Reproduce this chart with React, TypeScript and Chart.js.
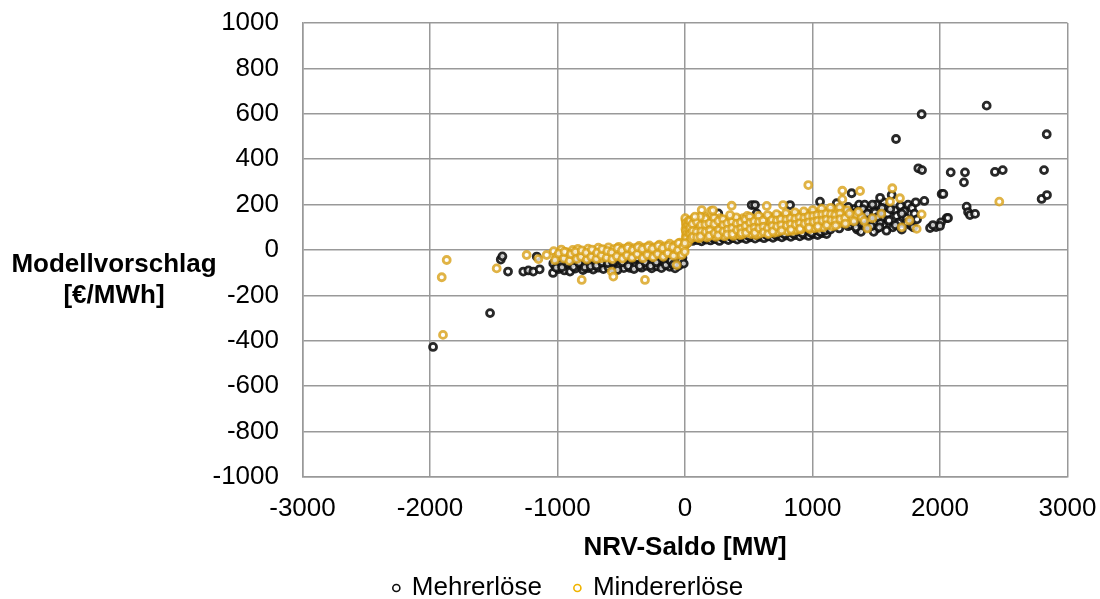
import React, { useEffect, useRef } from "react";
import { Chart, registerables } from "chart.js";

Chart.register(...registerables);

const FONT = "'Liberation Sans', Arial, Helvetica, sans-serif";

const SERIES_NAMES = ["Mehrerlöse", "Mindererlöse"];
const X_TITLE = "NRV-Saldo [MW]";
const Y_TITLE = ["Modellvorschlag", "[€/MWh]"];
const X_TICKS = [-3000, -2000, -1000, 0, 1000, 2000, 3000];
const Y_TICKS = [-1000, -800, -600, -400, -200, 0, 200, 400, 600, 800, 1000];

// Mehrerlöse (black) – isolated points
const mehrOutliers: number[][] = [
  [-1976, -427], [-1529, -278], [-1445, -42], [-1432, -28], [-1388, -95], [-1268, -95], [-1228, -90],
  [-1190, -95], [-1163, -29], [-1140, -85],
  [1856, 598], [2366, 636], [2837, 510], [1655, 489], [1830, 360], [1859, 352], [2084, 342], [2196, 342],
  [2188, 298], [2431, 344], [2492, 352], [2816, 352], [2013, 247], [2026, 247], [1877, 216], [2797, 225],
  [2839, 242], [2209, 191], [2220, 167], [2235, 154], [2275, 159], [2052, 140], [2063, 141], [2008, 122],
  [1922, 97], [1969, 101], [2000, 106], [1945, 110],
];

// Mehrerlöse – positive NRV band
const mehrPos: number[][] = [
  [15, 30], [30, 45], [60, 40], [95, 44], [130, 38], [165, 46], [200, 42], [235, 48], [270, 40], [305, 50],
  [340, 44], [375, 52], [410, 46], [445, 54], [480, 48], [515, 56], [550, 50], [585, 58], [620, 52], [655, 60],
  [690, 54], [725, 62], [760, 56], [795, 64], [830, 58], [865, 66], [900, 60], [935, 68], [970, 62], [1005, 70],
  [1040, 66], [1075, 74], [1110, 70],
  [50, 60], [120, 58], [190, 62], [260, 64], [330, 66], [400, 68], [470, 70], [540, 72], [610, 74], [680, 76],
  [750, 78], [820, 80], [890, 84], [960, 86], [1030, 88],
  [80, 52], [150, 50], [220, 54], [290, 56], [360, 58], [430, 60], [500, 62], [570, 64], [640, 66], [710, 68],
  [780, 70], [850, 72], [920, 74], [990, 76], [1060, 80], [1100, 86],
  [261, 161], [523, 198], [549, 198], [562, 161], [824, 198], [1059, 213], [1190, 206], [1229, 169],
  [300, 120], [650, 125], [750, 140], [870, 150], [1000, 160], [1120, 150],
  [1140, 90], [1175, 110], [1210, 95], [1245, 120], [1280, 105], [1307, 250], [1318, 140], [1330, 180],
  [1350, 90], [1365, 200], [1380, 115], [1400, 160], [1420, 130], [1440, 100], [1455, 185], [1470, 150],
  [1490, 120], [1505, 95], [1520, 175], [1540, 140], [1555, 110], [1570, 190], [1590, 160], [1600, 130],
  [1621, 242], [1630, 100], [1645, 175], [1660, 150], [1675, 120], [1690, 195], [1700, 90], [1720, 170],
  [1735, 140], [1750, 200], [1765, 110], [1780, 185], [1800, 160], [1820, 135], [1580, 85], [1480, 80],
  [1380, 80],
  [1150, 130], [1250, 150], [1300, 110], [1350, 170], [1450, 140], [1160, 170], [1280, 190], [1410, 200],
  [1500, 200], [1480, 170], [1530, 120], [1610, 180], [1650, 110], [1700, 160], [1740, 120], [1790, 100],
  [1810, 210], [1560, 210], [1530, 230],
  [1260, 140], [1275, 165], [1295, 125], [1315, 160], [1335, 130], [1340, 100], [1360, 150], [1375, 135],
  [1395, 180], [1410, 110], [1430, 160], [1445, 125], [1460, 105], [1470, 200], [1490, 165], [1510, 145],
  [1525, 100], [1545, 185],
];

// Mehrerlöse – negative NRV band
const mehrNeg: number[][] = [
  [-1000, -46], [-955, -52], [-910, -44], [-865, -50], [-820, -47], [-775, -53], [-730, -45], [-685, -51],
  [-640, -43], [-595, -49], [-550, -44], [-505, -50], [-460, -42], [-415, -48], [-370, -41], [-325, -47],
  [-280, -40], [-235, -46], [-190, -38], [-145, -44], [-100, -36], [-55, -42], [-20, -34],
  [-1020, -68], [-975, -62], [-930, -70], [-885, -64], [-840, -69], [-795, -63], [-750, -68], [-705, -62],
  [-660, -67], [-615, -61], [-570, -66], [-525, -60], [-480, -65], [-435, -59], [-390, -64], [-345, -58],
  [-300, -63], [-255, -57], [-210, -61], [-165, -56], [-120, -60], [-75, -55], [-35, -58],
  [-1035, -101], [-990, -84], [-945, -90], [-902, -95], [-860, -82], [-800, -88], [-760, -80], [-720, -86],
  [-680, -78], [-640, -84], [-600, -76], [-560, -82], [-520, -74], [-480, -80], [-431, -79], [-390, -72],
  [-340, -78], [-300, -70], [-261, -81], [-220, -72], [-170, -68], [-120, -74], [-78, -81], [-50, -70],
  [-1033, -59], [-980, -30], [-941, -15], [-860, -20], [-700, -30], [-500, -20], [-250, -10],
  [-1010, -78], [-965, -76], [-920, -56], [-875, -74], [-830, -56], [-785, -76], [-740, -72], [-695, -68],
  [-650, -54], [-605, -58], [-565, -52], [-530, -88], [-490, -54], [-445, -70], [-400, -84], [-355, -70],
  [-310, -54], [-270, -70], [-225, -54], [-185, -80], [-150, -66], [-110, -48], [-90, -64], [-30, -46],
  [-10, -60],
];

// Mindererlöse (gold) – positive NRV band
const minderPos: number[][] = [
  [5, 130], [8, 110], [4, 92], [10, 75], [6, 58], [12, 40], [3, 22], [15, 120], [20, 100], [25, 85],
  [18, 65], [28, 50], [2, 140], [9, 118], [14, 102], [7, 84], [16, 70], [11, 52], [22, 32], [26, 112],
  [32, 90], [35, 70], [30, 130],
  [40, 128], [42, 100], [45, 72], [48, 50], [70, 118], [75, 90], [78, 62], [72, 140],
  [105, 130], [110, 98], [108, 70], [112, 52], [140, 122], [145, 95], [138, 66], [150, 148],
  [175, 133], [180, 104], [178, 75], [172, 55], [210, 126], [215, 92], [205, 68],
  [245, 135], [250, 108], [248, 80], [242, 58], [280, 122], [285, 96], [290, 70], [275, 140],
  [315, 130], [320, 102], [318, 77], [310, 60], [350, 138], [355, 110], [345, 84],
  [385, 126], [390, 98], [392, 72], [380, 62], [420, 134], [425, 106], [418, 80], [430, 66],
  [455, 140], [460, 112], [465, 86], [450, 68], [490, 128], [495, 100], [500, 78], [488, 150],
  [525, 138], [530, 114], [535, 88], [520, 70], [560, 132], [565, 106], [570, 82], [558, 66],
  [595, 142], [600, 118], [605, 92], [590, 72], [630, 136], [635, 110], [640, 84],
  [665, 146], [670, 120], [675, 96], [660, 74], [700, 140], [705, 114], [710, 88], [698, 76],
  [735, 150], [740, 124], [745, 98], [730, 80], [775, 144], [780, 118], [785, 92],
  [810, 152], [815, 128], [820, 102], [805, 82], [845, 146], [850, 120], [855, 96], [840, 84],
  [880, 156], [885, 130], [890, 106], [875, 88], [915, 150], [920, 126], [925, 100], [910, 90],
  [950, 160], [955, 134], [960, 110], [985, 154], [990, 130], [995, 104], [980, 92],
  [1020, 164], [1025, 140], [1030, 114], [1015, 96], [1055, 158], [1060, 134], [1065, 108], [1050, 98],
  [1090, 170], [1095, 144], [1100, 120], [1085, 100], [1125, 160], [1130, 136], [1135, 112],
  [1160, 172], [1165, 148], [1170, 122], [1155, 104], [1195, 166], [1200, 140], [1205, 116],
  [1229, 180], [1240, 150], [1245, 126], [1270, 176], [1280, 128], [1310, 140], [1345, 156],
  [1385, 145], [1430, 95], [1470, 140], [1540, 160], [1760, 130], [1700, 100],
  [58, 114], [60, 84], [62, 58], [92, 124], [90, 80], [95, 56], [125, 110], [128, 82], [122, 60],
  [158, 138], [160, 112], [162, 80], [192, 118], [195, 86], [190, 62], [228, 142], [230, 114], [232, 74],
  [262, 128], [265, 88], [260, 64], [298, 136], [300, 110], [302, 82], [332, 118], [335, 90], [330, 68],
  [368, 124], [370, 96], [372, 70], [402, 144], [405, 116], [408, 88], [438, 122], [440, 94], [442, 74],
  [472, 134], [475, 106], [478, 76], [508, 146], [510, 120], [512, 92], [542, 126], [545, 98], [548, 76],
  [578, 150], [580, 124], [582, 96], [612, 130], [615, 102], [618, 78], [648, 154], [650, 96], [652, 70],
  [682, 132], [685, 106], [688, 82], [718, 158], [720, 130], [722, 104], [752, 136], [755, 110], [758, 86],
  [792, 162], [795, 134], [798, 108], [828, 140], [830, 114], [832, 90], [862, 166], [865, 138], [868, 112],
  [898, 144], [900, 118], [902, 94], [932, 170], [935, 142], [938, 116], [968, 148], [970, 122], [972, 98],
  [1002, 176], [1005, 150], [1008, 124], [1038, 154], [1040, 128], [1042, 104], [1072, 182], [1075, 156],
  [1078, 130], [1108, 160], [1110, 134], [1112, 110], [1142, 186], [1145, 158], [1148, 132], [1178, 154],
  [1180, 130], [1182, 108], [1212, 188], [1215, 160], [1218, 136], [1255, 140], [1258, 116],
  [1290, 160], [1325, 126], [1360, 168], [1405, 128],
  [131, 176], [118, 147], [204, 172], [366, 195], [353, 154], [78, 147], [220, 175], [641, 194],
  [769, 198], [967, 286], [1234, 261], [1234, 223], [1373, 260],
  [1608, 213], [1626, 272], [1686, 228], [1817, 93], [1856, 157], [2465, 213],
];

// Mindererlöse – negative NRV band and isolated points
const minderNeg: number[][] = [
  [-1869, -44], [-1908, -120], [-1898, -374], [-1477, -81], [-1242, -22], [-1085, -22], [-1150, -40],
  [-810, -132], [-575, -95], [-562, -117], [-314, -132], [-65, -66],
  [-1030, -5], [-1010, -30], [-970, 2], [-960, -25], [-930, -10], [-915, -35],
  [-880, 0], [-870, -28], [-840, 5], [-830, -20], [-800, -8], [-790, -32],
  [-760, 6], [-750, -18], [-720, -4], [-710, -28], [-680, 10], [-670, -14], [-660, -36],
  [-640, 0], [-630, -24], [-600, 12], [-590, -10], [-580, -32], [-560, 4], [-550, -20],
  [-520, 14], [-510, -8], [-500, -30], [-480, 6], [-470, -16], [-440, 16], [-430, -6], [-420, -28],
  [-400, 8], [-390, -14], [-360, 18], [-350, -4], [-340, -26], [-320, 10], [-310, -12],
  [-280, 20], [-270, -2], [-260, -24], [-240, 12], [-230, -10], [-200, 24], [-190, 2], [-180, -20],
  [-160, 16], [-150, -6], [-120, 28], [-110, 6], [-100, -16], [-80, 20], [-70, -2], [-60, -22],
  [-40, 32], [-30, 10], [-20, -12], [-10, 22], [-5, 0],
  [-1020, -45], [-990, -15], [-950, -38], [-945, -8], [-905, -48], [-895, -18], [-860, -8], [-850, -40],
  [-815, -30], [-810, -2], [-770, -42], [-775, -12], [-735, -30], [-730, 2], [-695, -40], [-690, -12],
  [-655, -24], [-650, 4], [-615, -34], [-610, -4], [-575, -12], [-570, -40], [-535, -28], [-530, 8],
  [-495, -2], [-490, -38], [-455, -24], [-450, 10], [-415, -34], [-410, 0], [-375, -18], [-370, 12],
  [-335, 4], [-330, -36], [-295, -22], [-290, 14], [-255, 6], [-250, -32], [-215, -18], [-210, 18],
  [-175, 8], [-170, -30], [-135, -14], [-130, 18], [-95, 12], [-90, -26], [-55, 0], [-50, 30],
  [-25, -22], [-15, 14], [-2, -8], [-1, 30],
];

const toPts = (arr: number[][]) => arr.map(([x, y]) => ({ x, y }));

const BLACK = "rgba(18,18,18,0.9)";
const GOLD = "rgba(216,160,22,0.8)";
const LEGEND_COLORS = ["#111111", "#f0b400"];

const yTitlePlugin = {
  id: "yTitleHorizontal",
  afterDraw(chart: any) {
    const { ctx, chartArea } = chart;
    const mid = (chartArea.top + chartArea.bottom) / 2;
    ctx.save();
    ctx.font = `bold 26px ${FONT}`;
    ctx.fillStyle = "#000";
    ctx.textAlign = "center";
    ctx.textBaseline = "alphabetic";
    ctx.fillText(Y_TITLE[0], chartArea.left - 188.5, mid + 22);
    ctx.fillText(Y_TITLE[1], chartArea.left - 188.5, mid + 53);
    ctx.restore();
  },
};

export default function App() {
  const ref = useRef<HTMLCanvasElement | null>(null);
  useEffect(() => {
    if (!ref.current) return;
    const chart = new Chart(ref.current, {
      type: "scatter",
      data: {
        datasets: [
          {
            label: SERIES_NAMES[0],
            data: toPts([...mehrOutliers, ...mehrPos, ...mehrNeg]),
            borderColor: BLACK,
            backgroundColor: "rgba(255,255,255,0.75)",
            pointRadius: 3.5,
            pointBorderWidth: 2.8,
            borderWidth: 2.8,
            pointStyle: "circle",
            order: 1,
          },
          {
            label: SERIES_NAMES[1],
            data: toPts([...minderPos, ...minderNeg]),
            borderColor: GOLD,
            backgroundColor: "rgba(255,255,255,0.75)",
            pointRadius: 3.5,
            pointBorderWidth: 2.8,
            borderWidth: 2.8,
            pointStyle: "circle",
            order: 0,
          },
        ],
      },
      options: {
        animation: false,
        responsive: false,
        devicePixelRatio: 1,
        layout: { padding: { left: 69.5, right: 32.5, top: 23, bottom: -12 } },
        plugins: {
          tooltip: { enabled: false },
          legend: {
            position: "bottom",
            labels: {
              usePointStyle: true,
              boxWidth: 5,
              boxHeight: 5,
              padding: 33,
              color: "#000",
              font: { size: 26, family: FONT },
              generateLabels: (c: any) => {
                const items = (Chart.defaults.plugins.legend.labels as any).generateLabels(c);
                return items
                  .map((it: any) => ({
                    ...it,
                    lineWidth: 1.6,
                    fillStyle: "#fff",
                    strokeStyle: LEGEND_COLORS[it.datasetIndex],
                    fontColor: "#000",
                  }))
                  .sort((a: any, b: any) => a.datasetIndex - b.datasetIndex);
              },
            },
          },
        },
        scales: {
          x: {
            type: "linear",
            min: X_TICKS[0],
            max: X_TICKS[X_TICKS.length - 1],
            afterBuildTicks: (s: any) => {
              s.ticks = X_TICKS.map((v) => ({ value: v }));
            },
            afterFit: (s: any) => {
              s.height = 65;
              s.paddingLeft = 0;
              s.paddingRight = 0;
            },
            ticks: {
              color: "#000",
              font: { size: 26, family: FONT },
              padding: 16,
              maxRotation: 0,
              callback: (v: any) => String(v),
            },
            grid: { color: "#999", lineWidth: 1.5, drawTicks: false },
            border: { color: "#999", width: 1.5 },
            title: {
              display: true,
              text: X_TITLE,
              color: "#000",
              font: { size: 26, family: FONT, weight: "bold" },
              padding: { top: 0, bottom: -21.6 },
            },
          },
          y: {
            type: "linear",
            min: Y_TICKS[0],
            max: Y_TICKS[Y_TICKS.length - 1],
            afterBuildTicks: (s: any) => {
              s.ticks = Y_TICKS.map((v) => ({ value: v }));
            },
            afterFit: (s: any) => {
              s.width = 233;
              s.paddingTop = 0;
              s.paddingBottom = 0;
            },
            ticks: {
              color: "#000",
              font: { size: 26, family: FONT },
              padding: 23.5,
              callback: (v: any) => String(v),
            },
            grid: { color: "#999", lineWidth: 1.5, drawTicks: false },
            border: { color: "#999", width: 1.5 },
          },
        },
      },
      plugins: [yTitlePlugin],
    });
    return () => chart.destroy();
  }, []);
  return (
    <div style={{ position: "absolute", left: 0, top: 0, width: 1100, height: 599 }}>
      <canvas ref={ref} width={1100} height={599} />
    </div>
  );
}
